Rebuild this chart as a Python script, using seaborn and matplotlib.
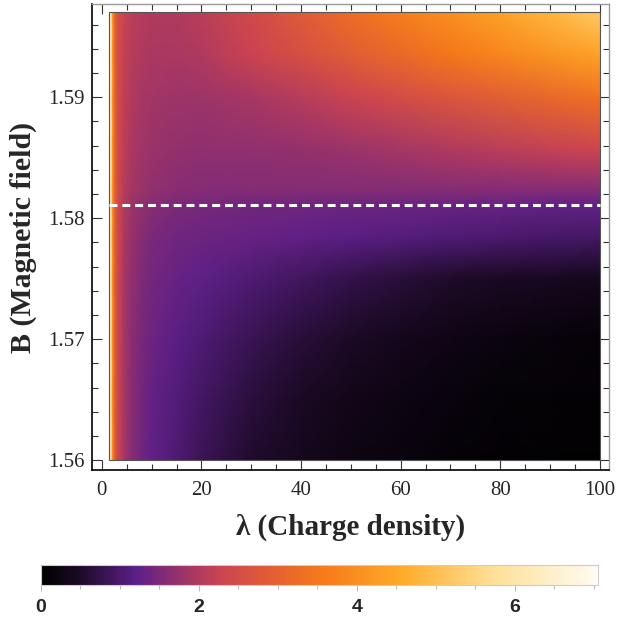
import numpy as np
import matplotlib
matplotlib.use("Agg")
import matplotlib.pyplot as plt
from matplotlib.colors import LinearSegmentedColormap
from matplotlib.ticker import MultipleLocator
import seaborn as sns

# Charge density samples (columns) and magnetic field samples (rows)
lam = [1.4, 1.8, 2.2, 2.6, 3.2, 4.5, 6, 8, 10, 15, 20, 30, 40, 50, 60, 70, 80, 90, 100]
field = [1.56, 1.565, 1.57, 1.575, 1.5785, 1.5811, 1.5823, 1.5855, 1.59, 1.5935, 1.597]

# Quantity on each row of constant B
row_1560 = [7.3, 6.0, 3.9, 2.9, 2.3, 1.9, 1.6, 1.4, 1.25, 1.05, 0.85, 0.55, 0.38, 0.26, 0.18, 0.12, 0.08, 0.05, 0.03]
row_1565 = [7.3, 6.0, 3.9, 2.95, 2.35, 1.9, 1.62, 1.42, 1.28, 1.1, 0.93, 0.65, 0.46, 0.33, 0.24, 0.17, 0.12, 0.09, 0.07]
row_1570 = [7.3, 6.0, 3.95, 2.95, 2.35, 1.9, 1.65, 1.47, 1.35, 1.18, 1.05, 0.82, 0.62, 0.47, 0.36, 0.27, 0.2, 0.15, 0.12]
row_1575 = [7.3, 6.0, 3.95, 2.95, 2.35, 1.92, 1.68, 1.52, 1.42, 1.3, 1.22, 1.05, 0.9, 0.75, 0.62, 0.52, 0.45, 0.4, 0.35]
row_15785 = [7.3, 6.0, 3.95, 3.0, 2.4, 1.95, 1.75, 1.6, 1.5, 1.4, 1.35, 1.3, 1.25, 1.18, 1.12, 1.07, 1.02, 0.98, 0.95]
row_15811 = [7.3, 6.0, 4.0, 3.0, 2.4, 2.0, 1.8, 1.7, 1.6, 1.5, 1.45, 1.4, 1.38, 1.36, 1.34, 1.32, 1.3, 1.28, 1.26]
row_15823 = [7.3, 6.0, 4.0, 3.05, 2.45, 2.05, 1.88, 1.78, 1.7, 1.62, 1.58, 1.57, 1.57, 1.57, 1.57, 1.57, 1.57, 1.57, 1.57]
row_15855 = [7.3, 6.1, 4.0, 3.05, 2.45, 2.1, 1.95, 1.85, 1.78, 1.72, 1.68, 1.68, 1.72, 1.78, 1.87, 1.97, 2.07, 2.17, 2.27]
row_1590 = [7.3, 6.1, 4.05, 3.1, 2.5, 2.15, 2.0, 1.92, 1.87, 1.82, 1.82, 1.92, 2.07, 2.27, 2.5, 2.72, 2.93, 3.15, 3.35]
row_15935 = [7.3, 6.2, 4.1, 3.1, 2.5, 2.2, 2.05, 2.0, 1.95, 1.95, 2.0, 2.25, 2.55, 2.87, 3.18, 3.5, 3.8, 4.1, 4.4]
row_1597 = [7.3, 6.2, 4.1, 3.1, 2.55, 2.25, 2.1, 2.05, 2.0, 2.0, 2.1, 2.4, 2.85, 3.27, 3.65, 4.0, 4.4, 4.8, 5.2]

# Critical field marked by the dashed line
b_crit = 1.5811

x_ticks = [0, 20, 40, 60, 80, 100]
y_ticks = [1.56, 1.57, 1.58, 1.59]
cbar_ticks = [0, 2, 4, 6]

sns.set_style("ticks")
plt.rcParams["font.family"] = ["Liberation Serif", "DejaVu Serif"]

Z = np.array([row_1560, row_1565, row_1570, row_1575, row_15785, row_15811,
              row_15823, row_15855, row_1590, row_15935, row_1597])

# Sunset-style gradient: black -> violet -> red -> orange -> amber -> cream
stops = [0.0, 0.07, 0.17, 0.32, 0.50, 0.65, 0.80, 1.0]
hexes = ["#000000", "#1c0a26", "#5c1f88", "#cb4351", "#f5781a", "#ffab28",
         "#ffdc90", "#fffcf4"]
rgb = sns.color_palette(hexes)
sunset = LinearSegmentedColormap.from_list("sunset", list(zip(stops, rgb)), N=512)

fig = plt.figure(figsize=(6.38, 6.19), dpi=100)
ax = fig.add_axes([0.144, 0.2407, 0.811, 0.7528])

mesh = ax.pcolormesh(lam, field, Z, shading="gouraud", cmap=sunset,
                     vmin=0, vmax=7.05, rasterized=True)
ax.add_patch(plt.Rectangle((lam[0], field[0]), lam[-1] - lam[0], field[-1] - field[0],
                           fill=False, edgecolor="#555555", lw=0.8, zorder=3))
ax.hlines(b_crit, lam[0], lam[-1], colors="white", linestyles=(0, (2.6, 1.6)),
          lw=2.2, zorder=4)

ax.set_xlim(-2.0, 101.9)
ax.set_ylim(1.5592, 1.5977)
ax.set_xticks(x_ticks)
ax.set_yticks(y_ticks)
ax.set_yticklabels([f"{v:.2f}" for v in y_ticks])
ax.xaxis.set_minor_locator(MultipleLocator(5))
ax.yaxis.set_minor_locator(MultipleLocator(0.002))
ax.tick_params(which="both", direction="in", top=True, right=True,
               labelsize=15, color="#333333", width=0.8)
ax.tick_params(which="major", length=7)
ax.tick_params(which="minor", length=4)
ax.tick_params(axis="x", pad=8)
ax.tick_params(axis="y", pad=5)

for side in ("left", "bottom"):
    ax.spines[side].set_color("black")
    ax.spines[side].set_linewidth(1.2)
for side in ("top", "right"):
    ax.spines[side].set_color("#9a9a9a")
    ax.spines[side].set_linewidth(1.0)

ax.set_xlabel("λ (Charge density)", fontsize=21, fontweight="bold", labelpad=10)
ax.set_ylabel("B (Magnetic field)", fontsize=21.5, fontweight="bold", labelpad=8)

cax = fig.add_axes([0.064, 0.055, 0.873, 0.032])
cb = fig.colorbar(mesh, cax=cax, orientation="horizontal")
cb.set_ticks(cbar_ticks)
cb.ax.xaxis.set_minor_locator(MultipleLocator(0.5))
cb.outline.set_edgecolor("#cccccc")
cb.outline.set_linewidth(0.8)
cb.ax.tick_params(which="both", direction="out", color="#bbbbbb", width=0.8)
cb.ax.tick_params(which="major", length=4, pad=6)
cb.ax.tick_params(which="minor", length=3)
for lab in cb.ax.get_xticklabels():
    lab.set_fontfamily(["Liberation Sans Narrow", "Liberation Sans", "DejaVu Sans"])
    lab.set_fontweight("bold")
    lab.set_fontsize(14)

fig.savefig("out.png", dpi=100)
